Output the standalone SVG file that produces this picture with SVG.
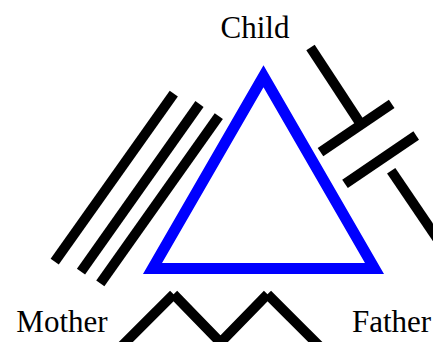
<svg xmlns="http://www.w3.org/2000/svg" width="433" height="342" viewBox="0 0 433 342">
  <style>
    .label { font-family: "Liberation Serif", "Times New Roman", serif; font-size: 31px; fill: #000; text-anchor: middle; }
    .rel { stroke: #000; stroke-width: 10; stroke-linecap: butt; fill: none; }
    .tri { stroke: #0000ff; stroke-width: 11; fill: none; stroke-linejoin: miter; stroke-miterlimit: 10; }
  </style>
  <rect x="0" y="0" width="433" height="342" fill="#ffffff"/>
  <g id="connectors">
    <g id="mother-child-fused">
      <line class="rel" x1="54.7" y1="261.7" x2="173.8" y2="93.7"/>
      <line class="rel" x1="81" y1="271.7" x2="199.5" y2="104"/>
      <line class="rel" x1="100.3" y1="283.3" x2="218.8" y2="116.2"/>
    </g>
    <g id="child-father-cutoff">
      <line class="rel" x1="310.5" y1="47.5" x2="360" y2="123"/>
      <line class="rel" x1="320.5" y1="152.2" x2="391.7" y2="103.8"/>
      <line class="rel" x1="345" y1="183.8" x2="416.2" y2="135.5"/>
      <line class="rel" x1="391.2" y1="170.8" x2="447.4" y2="253.5"/>
    </g>
    <g id="mother-father-conflict">
      <line class="rel" x1="119.6" y1="348.2" x2="173.6" y2="294.2"/>
      <polyline class="rel" stroke-linejoin="miter" points="173.6,294.2 220.5,342.5 267.5,294.2"/>
      <line class="rel" x1="267.5" y1="294.2" x2="321.5" y2="348.2"/>
    </g>
  </g>
  <g id="triangle">
    <polygon class="tri" points="263.5,76.2 374.5,268.5 152.5,268.5"/>
  </g>
  <g id="child">
    <text class="label" x="255" y="38">Child</text>
  </g>
  <g id="mother">
    <text class="label" x="62" y="332">Mother</text>
  </g>
  <g id="father">
    <text class="label" x="391.5" y="332">Father</text>
  </g>
</svg>
